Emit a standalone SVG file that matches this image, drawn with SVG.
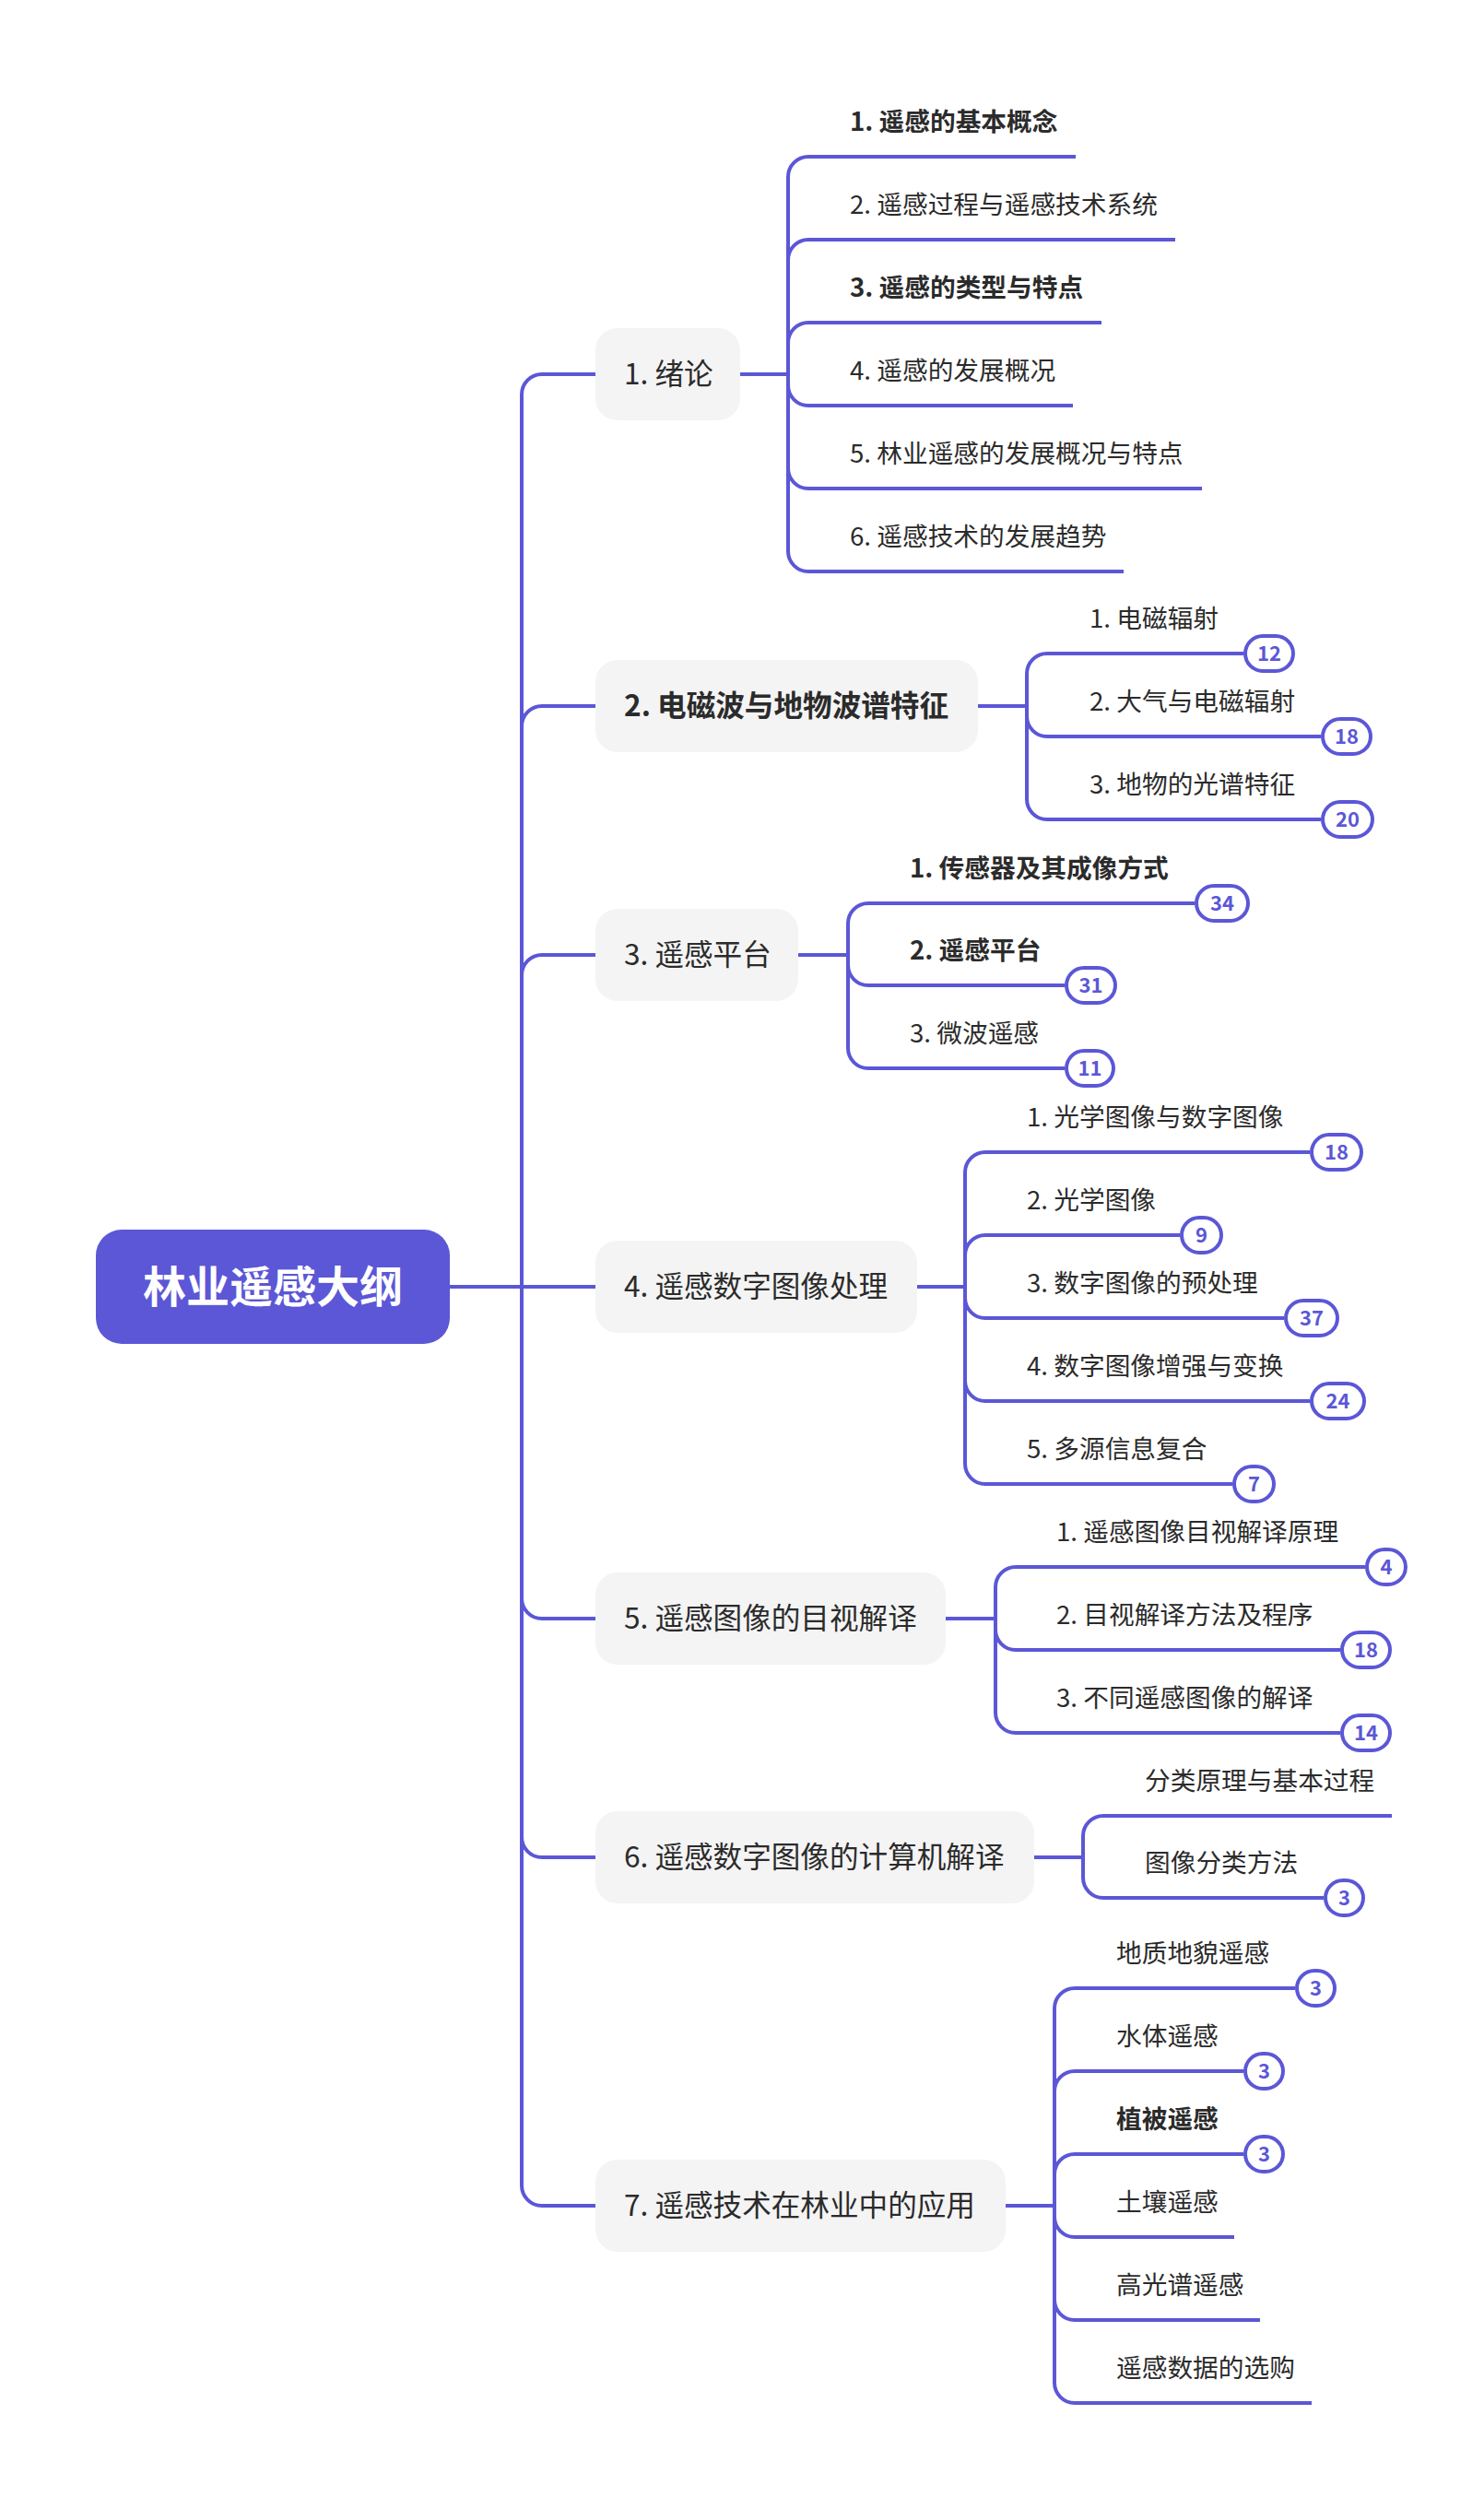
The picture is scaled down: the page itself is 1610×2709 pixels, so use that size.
<svg xmlns="http://www.w3.org/2000/svg" width="1610" height="2709" viewBox="0 0 1610 2709">
<style>
.ln{fill:none;stroke:#5B57D6;stroke-width:4;stroke-linecap:butt}
.mn{fill:#F4F4F4}
.mt{font-family:"Noto Sans CJK SC","Noto Sans",sans-serif;font-size:31.6px;fill:#2b2b2b}
.ct{font-family:"Noto Sans CJK SC","Noto Sans",sans-serif;font-size:27.7px;fill:#2b2b2b}
.b{font-weight:bold}
.bd{fill:#fff;stroke:#5B57D6;stroke-width:4}
.bt{font-family:"Noto Sans CJK SC","Noto Sans",sans-serif;font-size:22px;font-weight:bold;fill:#5B57D6;text-anchor:middle}
.rt{font-family:"Noto Sans CJK SC","Noto Sans",sans-serif;font-size:47px;font-weight:bold;fill:#fff;text-anchor:middle}
</style>
<rect width="1610" height="2709" fill="#fff"/>
<g id="connectors">
<path class="ln" d="M488 1396 H646"/>
<path class="ln" d="M566 1396 V428 A22 22 0 0 1 588 406 H646"/>
<path class="ln" d="M566 1396 V788 A22 22 0 0 1 588 766 H646"/>
<path class="ln" d="M566 1396 V1058 A22 22 0 0 1 588 1036 H646"/>
<path class="ln" d="M566 1396 V1734 A22 22 0 0 0 588 1756 H646"/>
<path class="ln" d="M566 1396 V1993 A22 22 0 0 0 588 2015 H646"/>
<path class="ln" d="M566 1396 V2371 A22 22 0 0 0 588 2393 H646"/>

<path class="ln" d="M803 406 H855"/>
<path class="ln" d="M855 406 V192 A22 22 0 0 1 877 170 H1167"/>
<path class="ln" d="M855 406 V282 A22 22 0 0 1 877 260 H1275"/>
<path class="ln" d="M855 406 V372 A22 22 0 0 1 877 350 H1195"/>
<path class="ln" d="M855 406 V418 A22 22 0 0 0 877 440 H1164"/>
<path class="ln" d="M855 406 V508 A22 22 0 0 0 877 530 H1304"/>
<path class="ln" d="M855 406 V598 A22 22 0 0 0 877 620 H1219"/>

<path class="ln" d="M1061 766 H1114"/>
<path class="ln" d="M1114 766 V731 A22 22 0 0 1 1136 709 H1349"/>
<path class="ln" d="M1114 766 V777 A22 22 0 0 0 1136 799 H1433"/>
<path class="ln" d="M1114 766 V867 A22 22 0 0 0 1136 889 H1433"/>

<path class="ln" d="M866 1036 H920"/>
<path class="ln" d="M920 1036 V1002 A22 22 0 0 1 942 980 H1296"/>
<path class="ln" d="M920 1036 V1047 A22 22 0 0 0 942 1069 H1155"/>
<path class="ln" d="M920 1036 V1137 A22 22 0 0 0 942 1159 H1155"/>

<path class="ln" d="M995 1396 H1047"/>
<path class="ln" d="M1047 1396 V1272 A22 22 0 0 1 1069 1250 H1421"/>
<path class="ln" d="M1047 1396 V1362 A22 22 0 0 1 1069 1340 H1280"/>
<path class="ln" d="M1047 1396 V1408 A22 22 0 0 0 1069 1430 H1393"/>
<path class="ln" d="M1047 1396 V1498 A22 22 0 0 0 1069 1520 H1421"/>
<path class="ln" d="M1047 1396 V1588 A22 22 0 0 0 1069 1610 H1337"/>

<path class="ln" d="M1026 1756 H1080"/>
<path class="ln" d="M1080 1756 V1722 A22 22 0 0 1 1102 1700 H1481"/>
<path class="ln" d="M1080 1756 V1768 A22 22 0 0 0 1102 1790 H1454"/>
<path class="ln" d="M1080 1756 V1858 A22 22 0 0 0 1102 1880 H1454"/>

<path class="ln" d="M1122 2015 H1175"/>
<path class="ln" d="M1175 2015 V1992 A22 22 0 0 1 1197 1970 H1510"/>
<path class="ln" d="M1175 2015 V2037 A22 22 0 0 0 1197 2059 H1436"/>

<path class="ln" d="M1091 2393 H1144"/>
<path class="ln" d="M1144 2393 V2179 A22 22 0 0 1 1166 2157 H1405"/>
<path class="ln" d="M1144 2393 V2269 A22 22 0 0 1 1166 2247 H1349"/>
<path class="ln" d="M1144 2393 V2359 A22 22 0 0 1 1166 2337 H1349"/>
<path class="ln" d="M1144 2393 V2405 A22 22 0 0 0 1166 2427 H1339"/>
<path class="ln" d="M1144 2393 V2495 A22 22 0 0 0 1166 2517 H1367"/>
<path class="ln" d="M1144 2393 V2585 A22 22 0 0 0 1166 2607 H1423"/>
</g>

<g id="root">
<rect x="104" y="1334" width="384" height="124" rx="28" fill="#5B57D6"/>
<text class="rt" x="296" y="1413">林业遥感大纲</text>
</g>

<g id="n1"><rect class="mn" x="646" y="356" width="157" height="100" rx="24"/><text class="mt" x="677" y="417">1. 绪论</text></g>
<g id="n2"><rect class="mn" x="646" y="716" width="415" height="100" rx="24"/><text class="mt b" x="677" y="777">2. 电磁波与地物波谱特征</text></g>
<g id="n3"><rect class="mn" x="646" y="986" width="220" height="100" rx="24"/><text class="mt" x="677" y="1047">3. 遥感平台</text></g>
<g id="n4"><rect class="mn" x="646" y="1346" width="349" height="100" rx="24"/><text class="mt" x="677" y="1407">4. 遥感数字图像处理</text></g>
<g id="n5"><rect class="mn" x="646" y="1706" width="380" height="100" rx="24"/><text class="mt" x="677" y="1767">5. 遥感图像的目视解译</text></g>
<g id="n6"><rect class="mn" x="646" y="1965" width="476" height="100" rx="24"/><text class="mt" x="677" y="2026">6. 遥感数字图像的计算机解译</text></g>
<g id="n7"><rect class="mn" x="646" y="2343" width="445" height="100" rx="24"/><text class="mt" x="677" y="2404">7. 遥感技术在林业中的应用</text></g>

<g id="n1-children">
<text class="ct b" x="922" y="142">1. 遥感的基本概念</text>
<text class="ct" x="922" y="232">2. 遥感过程与遥感技术系统</text>
<text class="ct b" x="922" y="322">3. 遥感的类型与特点</text>
<text class="ct" x="922" y="412">4. 遥感的发展概况</text>
<text class="ct" x="922" y="502">5. 林业遥感的发展概况与特点</text>
<text class="ct" x="922" y="592">6. 遥感技术的发展趋势</text>
</g>

<g id="n2-children">
<text class="ct" x="1182" y="681">1. 电磁辐射</text>
<rect class="bd" x="1351" y="690" width="52" height="38" rx="19"/><text class="bt" x="1377" y="716.5">12</text>
<text class="ct" x="1182" y="771">2. 大气与电磁辐射</text>
<rect class="bd" x="1435" y="780" width="52" height="38" rx="19"/><text class="bt" x="1461" y="806.5">18</text>
<text class="ct" x="1182" y="861">3. 地物的光谱特征</text>
<rect class="bd" x="1435" y="870" width="54" height="38" rx="19"/><text class="bt" x="1462" y="896.5">20</text>
</g>

<g id="n3-children">
<text class="ct b" x="987" y="952">1. 传感器及其成像方式</text>
<rect class="bd" x="1298" y="961" width="56" height="38" rx="19"/><text class="bt" x="1326" y="987.5">34</text>
<text class="ct b" x="987" y="1041">2. 遥感平台</text>
<rect class="bd" x="1157" y="1050" width="53" height="38" rx="19"/><text class="bt" x="1183.5" y="1076.5">31</text>
<text class="ct" x="987" y="1131">3. 微波遥感</text>
<rect class="bd" x="1157" y="1140" width="51" height="38" rx="19"/><text class="bt" x="1182.5" y="1166.5">11</text>
</g>

<g id="n4-children">
<text class="ct" x="1114" y="1222">1. 光学图像与数字图像</text>
<rect class="bd" x="1423" y="1231" width="54" height="38" rx="19"/><text class="bt" x="1450" y="1257.5">18</text>
<text class="ct" x="1114" y="1312">2. 光学图像</text>
<rect class="bd" x="1282" y="1321" width="43" height="38" rx="19"/><text class="bt" x="1303.5" y="1347.5">9</text>
<text class="ct" x="1114" y="1402">3. 数字图像的预处理</text>
<rect class="bd" x="1395" y="1411" width="56" height="38" rx="19"/><text class="bt" x="1423" y="1437.5">37</text>
<text class="ct" x="1114" y="1492">4. 数字图像增强与变换</text>
<rect class="bd" x="1423" y="1501" width="57" height="38" rx="19"/><text class="bt" x="1451.5" y="1527.5">24</text>
<text class="ct" x="1114" y="1582">5. 多源信息复合</text>
<rect class="bd" x="1339" y="1591" width="43" height="38" rx="19"/><text class="bt" x="1360.5" y="1617.5">7</text>
</g>

<g id="n5-children">
<text class="ct" x="1146" y="1672">1. 遥感图像目视解译原理</text>
<rect class="bd" x="1483" y="1681" width="42" height="38" rx="19"/><text class="bt" x="1504" y="1707.5">4</text>
<text class="ct" x="1146" y="1762">2. 目视解译方法及程序</text>
<rect class="bd" x="1456" y="1771" width="52" height="38" rx="19"/><text class="bt" x="1482" y="1797.5">18</text>
<text class="ct" x="1146" y="1852">3. 不同遥感图像的解译</text>
<rect class="bd" x="1456" y="1861" width="52" height="38" rx="19"/><text class="bt" x="1482" y="1887.5">14</text>
</g>

<g id="n6-children">
<text class="ct" x="1242" y="1942">分类原理与基本过程</text>
<text class="ct" x="1242" y="2031">图像分类方法</text>
<rect class="bd" x="1438" y="2040" width="41" height="38" rx="19"/><text class="bt" x="1458.5" y="2066.5">3</text>
</g>

<g id="n7-children">
<text class="ct" x="1211" y="2129">地质地貌遥感</text>
<rect class="bd" x="1407" y="2138" width="41" height="38" rx="19"/><text class="bt" x="1427.5" y="2164.5">3</text>
<text class="ct" x="1211" y="2219">水体遥感</text>
<rect class="bd" x="1351" y="2228" width="41" height="38" rx="19"/><text class="bt" x="1371.5" y="2254.5">3</text>
<text class="ct b" x="1211" y="2309">植被遥感</text>
<rect class="bd" x="1351" y="2318" width="41" height="38" rx="19"/><text class="bt" x="1371.5" y="2344.5">3</text>
<text class="ct" x="1211" y="2399">土壤遥感</text>
<text class="ct" x="1211" y="2489">高光谱遥感</text>
<text class="ct" x="1211" y="2579">遥感数据的选购</text>
</g>
</svg>
